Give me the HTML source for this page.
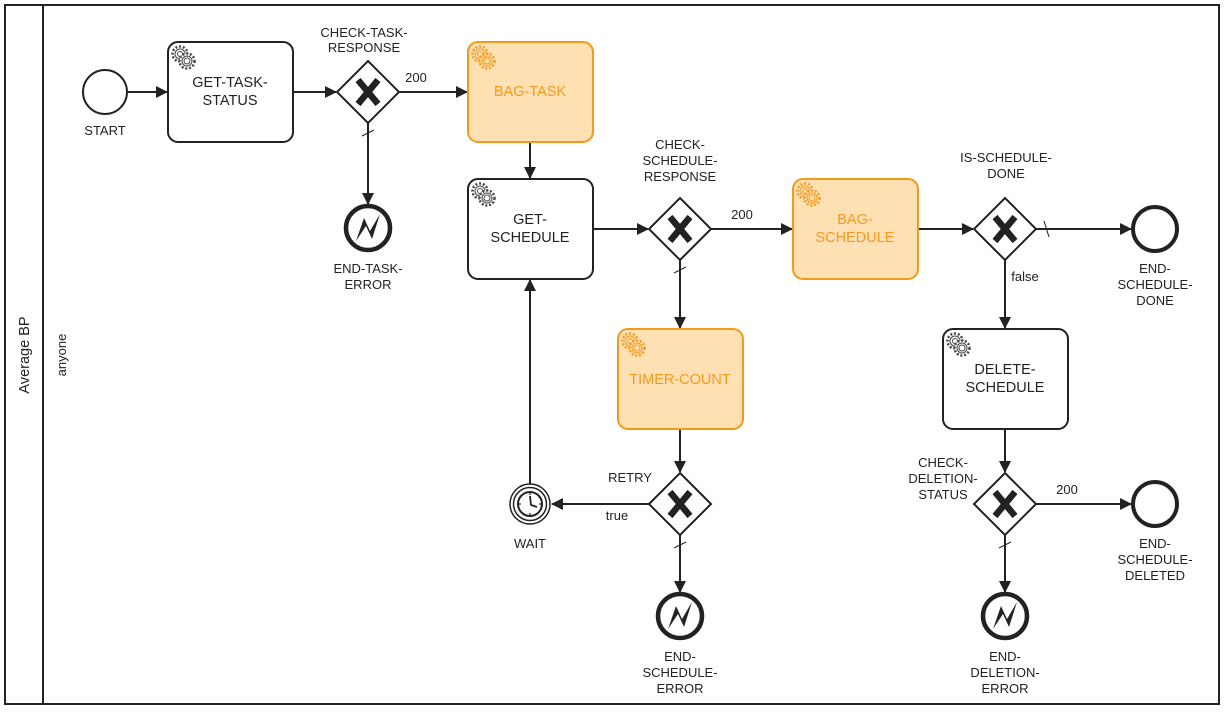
<!DOCTYPE html>
<html><head><meta charset="utf-8"><style>
html,body{margin:0;padding:0;background:#fff;}
svg{display:block;font-family:"Liberation Sans",Arial,sans-serif;}
.t{font-size:14.5px;fill:#222;text-anchor:middle;}
.l{font-size:13px;fill:#222;text-anchor:middle;}
.o{font-size:14.5px;fill:#f39a1e;text-anchor:middle;}
.ln{stroke:#222;stroke-width:2;fill:none;}
</style></head><body>
<svg width="1225" height="712" viewBox="0 0 1225 712">
<defs>
<marker id="a" markerWidth="12" markerHeight="12" refX="11" refY="6" orient="auto" markerUnits="userSpaceOnUse">
<path d="M0,0 L12,6 L0,12 z" fill="#222"/></marker>
<g id="gw"><path d="M0,-31 L31,0 L0,31 L-31,0 z" fill="#fff" stroke="#222" stroke-width="2"/>
<path d="M-10,-12 L10,12 M10,-12 L-10,12" stroke="#222" stroke-width="6.5"/></g>
<g id="gear"><circle r="7.5" fill="none" stroke="#444" stroke-width="2.5" stroke-dasharray="2 1.8"/><circle r="5" fill="#fff" stroke="#444" stroke-width="1"/><circle r="2.5" fill="none" stroke="#444" stroke-width="1"/>
<g transform="translate(7,7)"><circle r="7.5" fill="#fff" stroke="#444" stroke-width="2.5" stroke-dasharray="2 1.8"/><circle r="5" fill="#fff" stroke="#444" stroke-width="1"/><circle r="3" fill="none" stroke="#444" stroke-width="1"/></g></g>
<g id="gearo"><circle r="7.5" fill="none" stroke="#f39a1e" stroke-width="2.5" stroke-dasharray="2 1.8"/><circle r="5" fill="#ffe0b3" stroke="#f39a1e" stroke-width="1"/><circle r="2.5" fill="none" stroke="#f39a1e" stroke-width="1"/>
<g transform="translate(7,7)"><circle r="7.5" fill="#ffe0b3" stroke="#f39a1e" stroke-width="2.5" stroke-dasharray="2 1.8"/><circle r="5" fill="#ffe0b3" stroke="#f39a1e" stroke-width="1"/><circle r="3" fill="none" stroke="#f39a1e" stroke-width="1"/></g></g>
<g id="err"><circle r="22" fill="#fff" stroke="#222" stroke-width="4.5"/>
<path d="M-12,13 L-4,-10 L2,3 L12,-14 L4,11 L-2,-2 z" fill="#222"/></g>
</defs>
<rect x="5" y="5" width="1214" height="699" fill="#fff" stroke="#222" stroke-width="2"/>
<line x1="43" y1="5" x2="43" y2="704" stroke="#222" stroke-width="2"/>
<text class="t" transform="translate(29,355) rotate(-90)">Average BP</text>
<text class="l" transform="translate(66,355) rotate(-90)">anyone</text>

<line class="ln" x1="127" y1="92" x2="167" y2="92" marker-end="url(#a)"/>
<line class="ln" x1="293" y1="92" x2="336" y2="92" marker-end="url(#a)"/>
<line class="ln" x1="399" y1="92" x2="467" y2="92" marker-end="url(#a)"/>
<line class="ln" x1="368" y1="123" x2="368" y2="204" marker-end="url(#a)"/>
<line x1="362" y1="136" x2="374" y2="130" stroke="#222" stroke-width="1"/>
<line class="ln" x1="530" y1="142" x2="530" y2="178" marker-end="url(#a)"/>
<line class="ln" x1="593" y1="229" x2="648" y2="229" marker-end="url(#a)"/>
<line class="ln" x1="711" y1="229" x2="792" y2="229" marker-end="url(#a)"/>
<line class="ln" x1="680" y1="260" x2="680" y2="328" marker-end="url(#a)"/>
<line x1="674" y1="273" x2="686" y2="267" stroke="#222" stroke-width="1"/>
<line class="ln" x1="918" y1="229" x2="973" y2="229" marker-end="url(#a)"/>
<line class="ln" x1="1036" y1="229" x2="1131" y2="229" marker-end="url(#a)"/>
<line x1="1044" y1="221" x2="1049" y2="237" stroke="#222" stroke-width="1"/>
<line class="ln" x1="1005" y1="260" x2="1005" y2="328" marker-end="url(#a)"/>
<line class="ln" x1="680" y1="429" x2="680" y2="472" marker-end="url(#a)"/>
<line class="ln" x1="649" y1="504" x2="552" y2="504" marker-end="url(#a)"/>
<line class="ln" x1="530" y1="484" x2="530" y2="280" marker-end="url(#a)"/>
<line class="ln" x1="680" y1="535" x2="680" y2="592" marker-end="url(#a)"/>
<line x1="674" y1="548" x2="686" y2="542" stroke="#222" stroke-width="1"/>
<line class="ln" x1="1005" y1="429" x2="1005" y2="472" marker-end="url(#a)"/>
<line class="ln" x1="1036" y1="504" x2="1131" y2="504" marker-end="url(#a)"/>
<line class="ln" x1="1005" y1="535" x2="1005" y2="592" marker-end="url(#a)"/>
<line x1="999" y1="548" x2="1011" y2="542" stroke="#222" stroke-width="1"/>

<circle cx="105" cy="92" r="22" fill="#fff" stroke="#222" stroke-width="2"/>
<text class="l" x="105" y="135">START</text>

<rect x="168" y="42" width="125" height="100" rx="10" fill="#fff" stroke="#222" stroke-width="2"/>
<use href="#gear" x="180" y="54"/>
<text class="t" x="230" y="87">GET-TASK-</text><text class="t" x="230" y="105">STATUS</text>

<rect x="468" y="42" width="125" height="100" rx="10" fill="#ffe0b3" stroke="#f39a1e" stroke-width="2"/>
<use href="#gearo" x="480" y="54"/>
<text class="o" x="530" y="96">BAG-TASK</text>

<rect x="468" y="179" width="125" height="100" rx="10" fill="#fff" stroke="#222" stroke-width="2"/>
<use href="#gear" x="480" y="191"/>
<text class="t" x="530" y="224">GET-</text><text class="t" x="530" y="242">SCHEDULE</text>

<rect x="793" y="179" width="125" height="100" rx="10" fill="#ffe0b3" stroke="#f39a1e" stroke-width="2"/>
<use href="#gearo" x="805" y="191"/>
<text class="o" x="855" y="224">BAG-</text><text class="o" x="855" y="242">SCHEDULE</text>

<rect x="618" y="329" width="125" height="100" rx="10" fill="#ffe0b3" stroke="#f39a1e" stroke-width="2"/>
<use href="#gearo" x="630" y="341"/>
<text class="o" x="680" y="384">TIMER-COUNT</text>

<rect x="943" y="329" width="125" height="100" rx="10" fill="#fff" stroke="#222" stroke-width="2"/>
<use href="#gear" x="955" y="341"/>
<text class="t" x="1005" y="374">DELETE-</text><text class="t" x="1005" y="392">SCHEDULE</text>

<use href="#gw" x="368" y="92"/>
<text class="l" x="364" y="37">CHECK-TASK-</text><text class="l" x="364" y="52">RESPONSE</text>
<text class="l" x="416" y="82">200</text>
<use href="#gw" x="680" y="229"/>
<text class="l" x="680" y="149">CHECK-</text><text class="l" x="680" y="165">SCHEDULE-</text><text class="l" x="680" y="181">RESPONSE</text>
<text class="l" x="742" y="219">200</text>
<use href="#gw" x="1005" y="229"/>
<text class="l" x="1006" y="162">IS-SCHEDULE-</text><text class="l" x="1006" y="178">DONE</text>
<text class="l" x="1025" y="281">false</text>
<use href="#gw" x="680" y="504"/>
<text class="l" x="630" y="482">RETRY</text>
<text class="l" x="617" y="520">true</text>
<use href="#gw" x="1005" y="504"/>
<text class="l" x="943" y="467">CHECK-</text><text class="l" x="943" y="483">DELETION-</text><text class="l" x="943" y="499">STATUS</text>
<text class="l" x="1067" y="494">200</text>

<use href="#err" x="368" y="228"/>
<text class="l" x="368" y="273">END-TASK-</text><text class="l" x="368" y="289">ERROR</text>
<circle cx="1155" cy="229" r="22" fill="#fff" stroke="#222" stroke-width="4"/>
<text class="l" x="1155" y="273">END-</text><text class="l" x="1155" y="289">SCHEDULE-</text><text class="l" x="1155" y="305">DONE</text>
<circle cx="1155" cy="504" r="22" fill="#fff" stroke="#222" stroke-width="4"/>
<text class="l" x="1155" y="548">END-</text><text class="l" x="1155" y="564">SCHEDULE-</text><text class="l" x="1155" y="580">DELETED</text>
<use href="#err" x="680" y="616"/>
<text class="l" x="680" y="661">END-</text><text class="l" x="680" y="677">SCHEDULE-</text><text class="l" x="680" y="693">ERROR</text>
<use href="#err" x="1005" y="616"/>
<text class="l" x="1005" y="661">END-</text><text class="l" x="1005" y="677">DELETION-</text><text class="l" x="1005" y="693">ERROR</text>

<circle cx="530" cy="504" r="20" fill="#fff" stroke="#222" stroke-width="1.5"/>
<circle cx="530" cy="504" r="16.5" fill="#fff" stroke="#222" stroke-width="1.5"/>
<circle cx="530" cy="504" r="12" fill="#fff" stroke="#222" stroke-width="2"/>
<g stroke="#222" stroke-width="1.2">
<line x1="530" y1="493" x2="530" y2="495"/><line x1="530" y1="513" x2="530" y2="515"/>
<line x1="519" y1="504" x2="521" y2="504"/><line x1="539" y1="504" x2="541" y2="504"/>
</g>
<path d="M530,496 L531,505 L537,507" stroke="#222" stroke-width="1.8" fill="none"/>
<text class="l" x="530" y="548">WAIT</text>
</svg>
</body></html>
